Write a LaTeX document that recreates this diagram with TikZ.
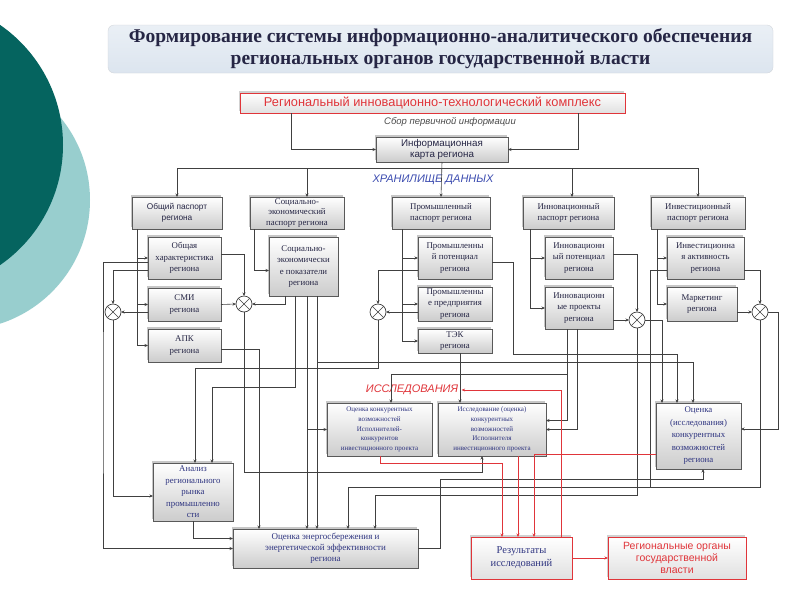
\documentclass[tikz,border=0pt]{standalone}
\usepackage{fontspec}
\setmainfont{Liberation Serif}
\newfontfamily\ars{Liberation Sans}
\usetikzlibrary{arrows.meta,shadows}
\definecolor{txt}{HTML}{262645}
\definecolor{rtxt}{HTML}{2E3480}
\definecolor{redc}{HTML}{E0353A}
\definecolor{bluec}{HTML}{3C4CB0}
\definecolor{tealdark}{HTML}{05645F}
\definecolor{teallight}{HTML}{98CECE}
\definecolor{titlefill}{HTML}{DCE5EF}
\newcommand\mkbox[7]{%
  \pgfmathsetmacro\mbw{#4-#2}%
  \pgfmathsetmacro\mbh{#5-#3}%
  \pgfmathsetmacro\mbx{(#2+#4)/2}%
  \pgfmathsetmacro\mby{(#3+#5)/2}%
  \node[#6,minimum width=\mbw pt,minimum height=\mbh pt] (#1) at (\mbx,\mby) {#7};}
\begin{document}
\begin{tikzpicture}[x=1pt,y=-1pt,
  basebox/.style={draw=black!65,line width=0.6pt,top color=white,bottom color=black!20,
    align=center,inner sep=1pt,outer sep=0pt,text=txt,
    drop shadow={shadow xshift=-1.5pt,shadow yshift=2.5pt,fill=black,opacity=0.22}},
  sbox/.style={basebox,font=\fontsize{8.8}{11.5}\selectfont},
  pbox/.style={basebox,font=\fontsize{8.8}{10.5}\selectfont},
  psans/.style={basebox,font=\ars\fontsize{8.3}{11}\selectfont},
  rbox/.style={basebox,text=rtxt,font=\fontsize{7}{9.8}\selectfont},
  redbox/.style={draw=redc,line width=0.7pt,top color=white,bottom color=black!12,
    align=center,inner sep=1pt,outer sep=0pt,
    drop shadow={shadow xshift=-1.5pt,shadow yshift=2.5pt,fill=black,opacity=0.18}},
  titlebox/.style={rounded corners=6pt,top color=titlefill!60,bottom color=titlefill,
    draw=titlefill!80!black!60,line width=0.3pt,align=center,text=txt,
    font=\bfseries\fontsize{19.5}{22}\selectfont},
  wire/.style={draw=black!75,line width=0.6pt},
  arw/.style={wire,-{Stealth[length=3.5pt,width=3pt]}},
  rwire/.style={draw=redc,line width=0.7pt},
  rarw/.style={rwire,-{Stealth[length=3.5pt,width=3pt]}},
  xcirc/.style={circle,draw=black!75,line width=0.7pt,fill=white,minimum size=16pt,inner sep=0pt,outer sep=0pt}
]
\useasboundingbox (0,0) rectangle (800,600);
\fill[white] (0,0) rectangle (800,600);
% background decoration
\begin{scope}
\clip (0,0) rectangle (800,600);
\fill[teallight] (-40,200) circle (130);
\fill[tealdark] (-83,145) circle (146);
\end{scope}
% title
\mkbox{title}{108}{25}{773}{73}{titlebox}{Формирование системы информационно-аналитического обеспечения\\региональных органов государственной власти}
% top
\mkbox{top}{240}{93}{625}{113}{redbox,text=redc,font=\ars\fontsize{12.8}{14}\selectfont}{Региональный инновационно-технологический комплекс}
\node[font=\ars\itshape\fontsize{9.5}{11}\selectfont,text=black!70] (sbor) at (450,122) {Сбор первичной информации};
\mkbox{info}{376}{137}{508}{162}{psans,font=\ars\fontsize{9.8}{11.5}\selectfont}{Информационная\\карта региона}
% passports
\mkbox{obsh}{132}{197}{222}{229}{psans}{Общий паспорт\\региона}
\mkbox{sotsp}{250}{197}{344}{229}{pbox}{Социально-\\экономический\\паспорт региона}
\mkbox{prom}{392}{197}{490}{229}{pbox}{Промышленный\\паспорт региона}
\mkbox{innp}{523}{197}{614}{229}{pbox}{Инновационный\\паспорт региона}
\mkbox{invp}{651}{197}{745}{229}{pbox}{Инвестиционный\\паспорт региона}
% sub boxes
\mkbox{ohar}{148}{237}{221}{279}{sbox}{Общая\\характеристика\\региона}
\mkbox{smi}{148}{288}{221}{321}{sbox}{СМИ\\региона}
\mkbox{apk}{148}{329}{221}{362}{sbox}{АПК\\региона}
\mkbox{sotspok}{269}{237}{338}{296}{sbox}{Социально-\\экономически\\е показатели\\региона}
\mkbox{prompot}{418}{237}{492}{279}{sbox}{Промышленны\\й потенциал\\региона}
\mkbox{prompred}{418}{287}{492}{321}{sbox}{Промышленны\\е предприятия\\региона}
\mkbox{tek}{418}{329}{492}{353}{sbox}{ТЭК\\региона}
\mkbox{innpot}{545}{237}{613}{279}{sbox}{Инновационн\\ый потенциал\\региона}
\mkbox{innpr}{545}{287}{613}{329}{sbox}{Инновационн\\ые проекты\\региона}
\mkbox{invakt}{667}{237}{744}{279}{sbox}{Инвестиционна\\я активность\\региона}
\mkbox{mark}{667}{287}{737}{321}{sbox}{Маркетинг\\региона}
% research
\mkbox{okonk}{327}{403}{432}{456}{rbox}{Оценка конкурентных\\возможностей\\Исполнителей-\\конкурентов\\инвестиционного проекта}
\mkbox{issl}{438}{403}{546}{456}{rbox}{Исследование (оценка)\\конкурентных\\возможностей\\Исполнителя\\инвестиционного проекта}
\mkbox{otsreg}{656}{403}{741}{469}{rbox,font=\fontsize{8.8}{12.5}\selectfont}{Оценка\\(исследования)\\конкурентных\\возможностей\\региона}
\mkbox{an}{153}{463}{233}{521}{rbox,font=\fontsize{8.8}{11.5}\selectfont}{Анализ\\регионального\\рынка\\промышленно\\сти}
\mkbox{en}{233}{529}{418}{568}{rbox,font=\fontsize{9}{11}\selectfont}{Оценка энергосбережения и\\энергетической эффективности\\региона}
\mkbox{res}{471}{537}{572}{579}{redbox,text=rtxt,font=\fontsize{10.5}{13}\selectfont}{Результаты\\исследований}
\mkbox{org}{608}{537}{746}{579}{redbox,text=redc,font=\ars\fontsize{10.5}{12}\selectfont}{Региональные органы\\государственной\\власти}
% labels
\node[font=\ars\itshape\fontsize{11}{12}\selectfont,text=bluec] (hran) at (433,180) {ХРАНИЛИЩЕ ДАННЫХ};
\node[font=\ars\itshape\fontsize{11}{12}\selectfont,text=redc] (isslabel) at (412,390) {ИССЛЕДОВАНИЯ};
% circles
\node[xcirc] (c1) at (113,312) {};
\node[xcirc] (c2) at (244,304) {};
\node[xcirc] (c3) at (378,312) {};
\node[xcirc] (c4) at (637,320) {};
\node[xcirc] (c5) at (760,312) {};
\foreach \c in {c1,c2,c3,c4,c5}{
  \draw[wire] (\c.45) -- (\c.225);
  \draw[wire] (\c.135) -- (\c.315);
}
% top connections
\draw[arw] ([xshift=51pt]top.south west) |- (info.west);
\draw[arw] ([xshift=-47pt]top.south east) |- (info.east);
\draw[arw] (info.south) -- (prom.north);
\draw[wire] (177,168) -- (698,168);
\draw[arw] (177,168) -- (obsh.north);
\draw[arw] (307,168) -- (307,197);
\draw[arw] (572,168) -- (572,197);
\draw[arw] (698,168) -- (invp.north);
% spines
\draw[arw] ([xshift=5pt]obsh.south west) |- (ohar.west);
\draw[arw] ([xshift=5pt]obsh.south west) |- (smi.west);
\draw[arw] ([xshift=5pt]obsh.south west) |- (apk.west);
\draw[arw] ([xshift=4pt]sotsp.south west) |- ([yshift=-4pt]sotspok.west);
\draw[arw] ([xshift=10pt]prom.south west) |- (prompot.west);
\draw[arw] ([xshift=10pt]prom.south west) |- (prompred.west);
\draw[arw] ([xshift=10pt]prom.south west) |- (tek.west);
\draw[arw] ([xshift=7pt]innp.south west) |- (innpot.west);
\draw[arw] ([xshift=7pt]innp.south west) |- (innpr.west);
\draw[arw] ([xshift=6pt]invp.south west) |- (invakt.west);
\draw[arw] ([xshift=6pt]invp.south west) |- (mark.west);
% circle 1
\draw[arw] ([yshift=-12pt]ohar.west) -| (c1.north);
\draw[arw] ([yshift=-7.5pt]smi.west) -- (c1.east);
\draw[arw] (c1.south) |- ([yshift=-4pt]an.west);
\draw[arw] ([yshift=-4pt]ohar.west) -| (103,400) |- (en.west);
% circle 2
\draw[arw] ([yshift=4pt]ohar.east) -| (c2.north);
\draw[arw] (smi.east) -- (c2.west);
\draw[arw] ([xshift=16pt]sotspok.south west) |- (c2.east);
\draw[arw] (c2.south) |- ([xshift=-10pt,yshift=-16pt]issl.south) -- ([xshift=-10pt]issl.south);
\draw[arw] ([yshift=-4pt]apk.east) -| ([xshift=26pt]en.north west);
% social outputs
\draw[arw] ([xshift=26pt]sotspok.south west) |- ([xshift=59pt,yshift=76pt]an.north west) -- ([xshift=59pt]an.north west);
\draw[arw] ([xshift=38pt]sotspok.south west) -- ([xshift=74pt]en.north west);
\draw[arw] ([xshift=48pt]sotspok.south west) -- ([xshift=84pt]en.north west);
\draw[arw] (317,362) -| ([xshift=37pt]otsreg.north west);
\draw[arw] (307,429.5) -- (okonk.west);
% circle 3
\draw[arw] ([yshift=-12pt]prompot.west) -| (c3.north);
\draw[arw] ([yshift=-8pt]prompred.west) -- (c3.east);
\draw[arw] (c3.south) |- ([xshift=42pt,yshift=95pt]an.north west) -- ([xshift=42pt]an.north west);
\draw[arw] ([xshift=5pt]tek.south) -- ([xshift=-32pt]issl.north);
\draw[arw] ([yshift=-4pt]prompot.east) -| (513,354) -| ([xshift=21pt]otsreg.north west);
% circle 4
\draw[arw] ([yshift=4pt]innpot.east) -| (c4.north);
\draw[arw] ([yshift=-12pt]innpr.east) -- (c4.west);
\draw[arw] (c4.east) -| ([xshift=6pt]otsreg.north west);
\draw[arw] (c4.south) |- ([xshift=142pt,yshift=34pt]en.north west) -- ([xshift=142pt]en.north west);
\draw[arw] ([xshift=22pt]innpr.south west) |- ([yshift=9pt]issl.east);
\draw[arw] ([xshift=32pt]innpr.south west) |- (issl.east);
\draw[arw] (567,374) -| ([xshift=64pt]okonk.north west);
% circle 5
\draw[arw] ([yshift=-12pt]invakt.east) -| (c5.north);
\draw[arw] ([yshift=-8pt]mark.east) -- (c5.west);
\draw[arw] (c5.east) -| ([xshift=37pt,yshift=7pt]otsreg.east) -- ([yshift=7pt]otsreg.east);
\draw[arw] (c5.south) |- ([xshift=115pt,yshift=42pt]en.north west) -- ([xshift=115pt]en.north west);
\draw[wire] ([yshift=-12pt]invakt.west) -| (650,487);
% analysis and energy
\draw[arw] (an.south) |- ([yshift=10pt]en.west);
\draw[arw] (en.east) -| (440,479) -| ([xshift=47pt]otsreg.south west);
% red
\draw[rarw] ([xshift=-11pt]res.north east) |- (isslabel.east);
\draw[rarw] ([xshift=53pt]okonk.south west) |- ([xshift=31pt,yshift=74pt]res.north west) -- ([xshift=31pt]res.north west);
\draw[rarw] ([xshift=80pt]issl.south west) -- ([xshift=47pt]res.north west);
\draw[rarw] ([yshift=-18pt]otsreg.west) -| ([xshift=63pt]res.north west);
\draw[rarw] (res.east) -- (org.west);
\end{tikzpicture}
\end{document}
